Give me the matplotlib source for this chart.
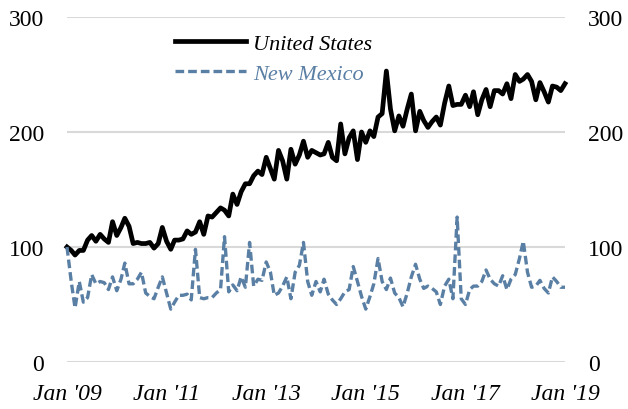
import matplotlib
matplotlib.use("Agg")
import matplotlib.pyplot as plt
import pandas as pd

dates = pd.date_range("2009-01-01", periods=121, freq="MS")

united_states = [
    100, 97, 93, 97, 97, 106, 110, 105, 111, 107, 104, 122,
    110, 117, 125, 118, 103, 104, 103, 103, 104, 99, 103, 117,
    105, 98, 106, 106, 107, 114, 111, 113, 122, 111, 127, 126,
    130, 134, 132, 127, 146, 137, 148, 155, 155, 162, 166, 163,
    178, 168, 159, 184, 175, 159, 185, 172, 180, 192, 178, 184,
    182, 180, 181, 191, 178, 175, 207, 181, 195, 201, 176, 200,
    191, 201, 196, 213, 216, 253, 220, 201, 214, 205, 220, 233,
    201, 218, 210, 204, 209, 213, 206, 225, 240, 223, 224, 224,
    232, 222, 235, 215, 228, 237, 222, 236, 236, 233, 242, 229,
    250, 244, 246, 250, 244, 228, 243, 235, 226, 240, 239, 236,
    242,
]

new_mexico = [
    100, 70, 47, 70, 52, 56, 76, 68, 70, 69, 63, 74,
    62, 72, 86, 68, 68, 72, 78, 60, 57, 55, 65, 74,
    60, 46, 52, 58, 58, 59, 54, 98, 56, 55, 56, 56,
    60, 63, 109, 61, 67, 62, 74, 65, 104, 66, 72, 71,
    87, 78, 58, 60, 66, 74, 55, 78, 84, 104, 70, 58,
    70, 61, 72, 59, 54, 50, 55, 61, 63, 83, 70, 57,
    46, 57, 68, 90, 70, 63, 73, 60, 56, 48, 60, 74,
    85, 72, 64, 66, 64, 61, 50, 66, 72, 55, 126, 55,
    50, 63, 66, 66, 70, 80, 72, 68, 66, 75, 63, 72,
    76, 90, 105, 78, 65, 66, 71, 64, 60, 74, 70, 65,
    65,
]

series_labels = ["United States", "New Mexico"]
y_ticks = [0, 100, 200, 300]
x_tick_dates = pd.to_datetime(["2009-01-01", "2011-01-01", "2013-01-01",
                               "2015-01-01", "2017-01-01", "2019-01-01"])
x_tick_labels = ["Jan '09", "Jan '11", "Jan '13", "Jan '15", "Jan '17", "Jan '19"]

plt.rcParams["font.family"] = ["Liberation Serif", "DejaVu Serif"]

fig = plt.figure(figsize=(6.28, 4.10), dpi=100)
ax = fig.add_axes([67 / 628, 1 - 363 / 410, (565 - 67) / 628, (363 - 18) / 410])

blue = "#5A7FA4"
ax.plot(dates, united_states, color="black", lw=3.4, solid_joinstyle="round",
        clip_on=False, zorder=3, label=series_labels[0])
ax.plot(dates, new_mexico, color=blue, lw=2.4, dashes=(2.6, 1.2),
        clip_on=False, zorder=3, label=series_labels[1])

ax.set_xlim(dates[0], dates[-1])
ax.set_ylim(0, 300)
ax.set_yticks(y_ticks)
ax.set_yticklabels([str(v) for v in y_ticks])
ax.set_xticks(x_tick_dates)
ax.set_xticklabels(x_tick_labels, fontstyle="italic")
ax.grid(axis="y", color="#D9D9D9", lw=1.5, zorder=0)
ax.grid(axis="x", visible=False)
for s in ax.spines.values():
    s.set_visible(False)
ax.tick_params(axis="y", length=0, pad=16.5, labelsize=17, labelleft=True,
               labelright=True, colors="black")
ax.tick_params(axis="x", length=0, pad=15, labelsize=17)

leg = ax.legend(loc="upper left", bbox_to_anchor=(175 / 628, 1 - 34 / 410),
                bbox_transform=fig.transFigure, frameon=False, borderpad=0,
                borderaxespad=0, handlelength=3.2, handletextpad=0.3,
                labelspacing=0.45, prop={"family": "Liberation Serif",
                                         "style": "italic", "size": 16},
                labelcolor="linecolor")

fig.savefig("out.png", dpi=100)
